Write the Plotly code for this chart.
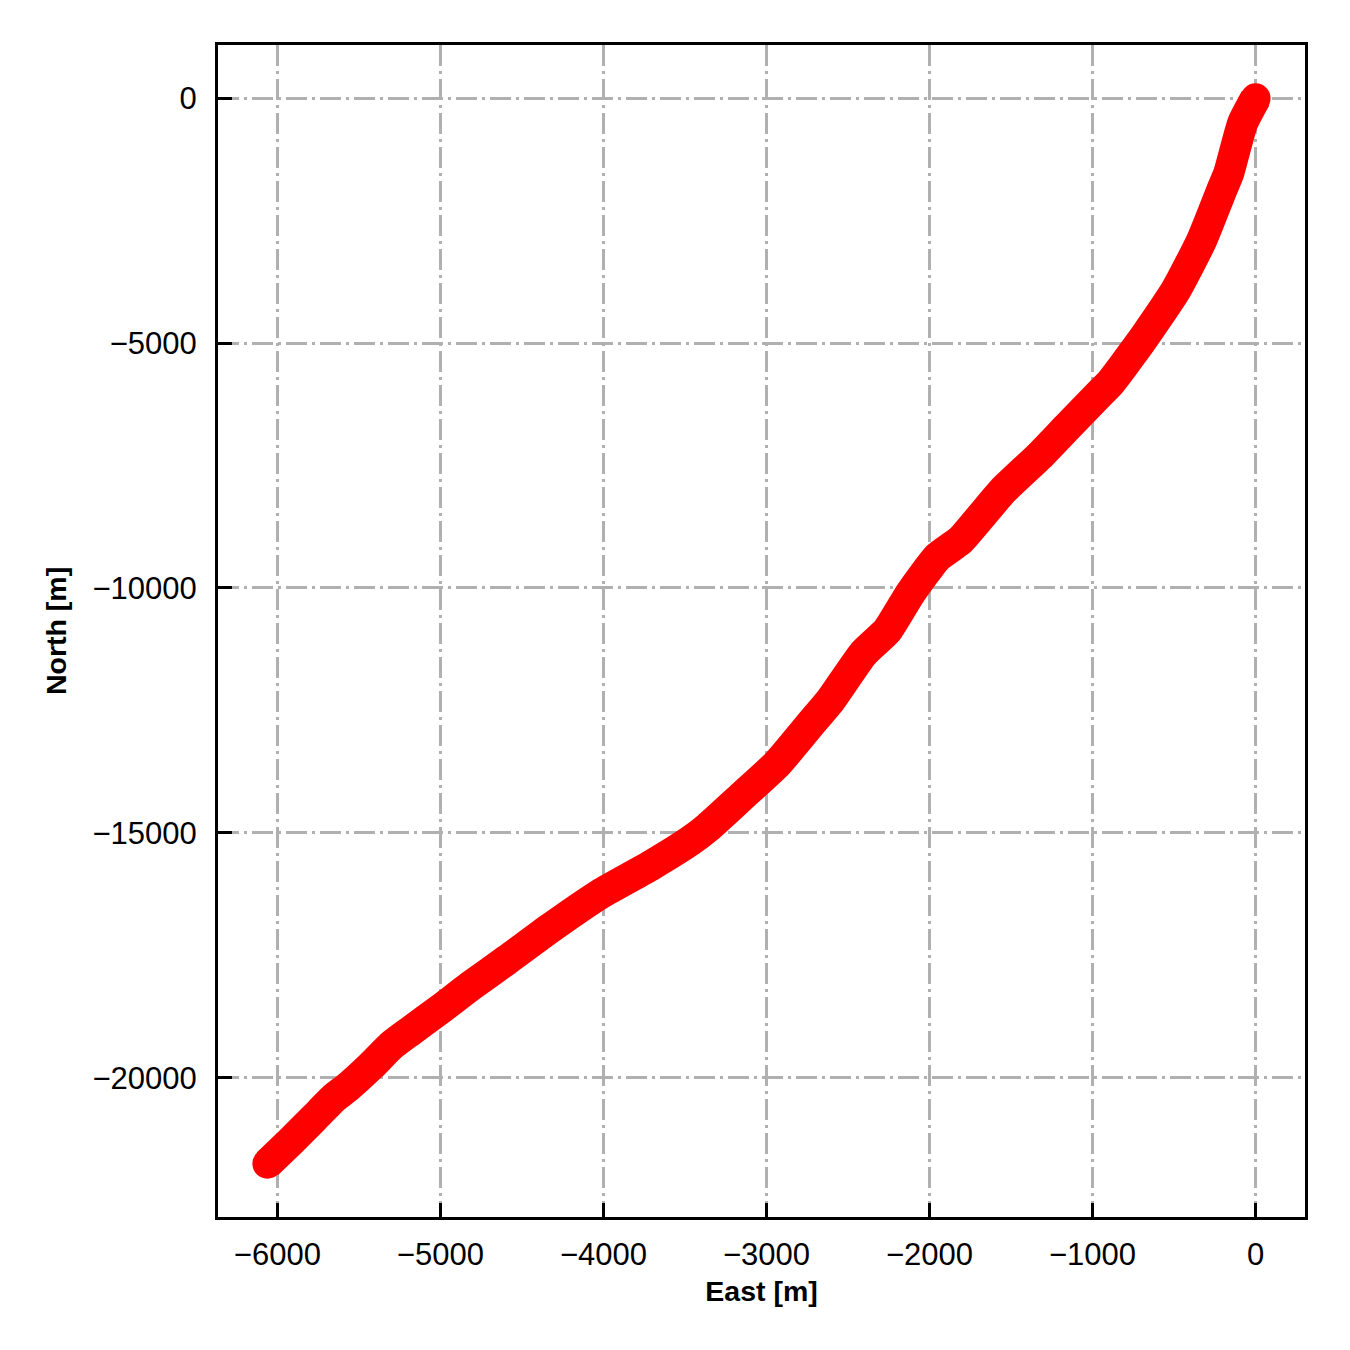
import plotly.graph_objects as go

# Track (metres)
east = [0, -80, -165, -208, -331, -490, -710, -894, -955, -1157, -1322, -1549,
        -1690, -1812, -1953, -2118, -2259, -2406, -2608, -2712, -2933, -3159,
        -3361, -3465, -3710, -4016, -4322, -4598, -4812, -4996, -5180, -5302,
        -5424, -5565, -5651, -5773, -5914, -6061]
north = [0, -511, -1532, -1879, -2901, -3922, -5005, -5822, -6027, -6721, -7293,
         -8008, -8560, -9030, -9377, -10112, -10868, -11338, -12298, -12707,
         -13585, -14280, -14893, -15158, -15669, -16241, -16936, -17610, -18121,
         -18590, -19040, -19346, -19755, -20184, -20409, -20817, -21287, -21757]
x_ticks = [-6000, -5000, -4000, -3000, -2000, -1000, 0]
y_ticks = [0, -5000, -10000, -15000, -20000]


def padded(v, frac=0.05):
    lo, hi = min(v), max(v)
    m = (hi - lo) * frac
    return [lo - m, hi + m]


FONT = "Liberation Sans, Arial, sans-serif"
GRID = "#b0b0b0"
DASH = "21px,5px,3px,5px"

fig = go.Figure()
fig.add_trace(go.Scatter(
    x=east, y=north, mode="lines+markers",
    line=dict(color="#ff0000", width=31, shape="spline", smoothing=0.5),
    marker=dict(color="#ff0000", size=30, line=dict(width=0)),
    showlegend=False,
))

axis_common = dict(
    showline=True, linecolor="black", linewidth=3, mirror=True,
    ticks="inside", ticklen=14, tickwidth=3, tickcolor="black",
    showgrid=True, gridcolor=GRID, gridwidth=3, griddash=DASH,
    zeroline=False, tickformat="d",
    tickfont=dict(family=FONT, size=31, color="black"),
)

fig.update_xaxes(
    **axis_common,
    range=padded(east), tickvals=x_ticks,
    ticklabelstandoff=8,
    title=dict(text="<b>East [m]</b>", font=dict(family=FONT, size=28.5, color="black"),
               standoff=10),
)
fig.update_yaxes(
    **axis_common,
    range=padded(north), tickvals=y_ticks,
    ticklabelstandoff=12,
    title=dict(text="<b>North [m]</b>", font=dict(family=FONT, size=28.5, color="black"),
               standoff=18),
)

fig.update_layout(
    width=1334, height=1334,
    margin=dict(l=210, r=37, t=37, b=125),
    paper_bgcolor="white", plot_bgcolor="white",
    font=dict(family=FONT, color="black"),
)

fig.write_html("out.html")
